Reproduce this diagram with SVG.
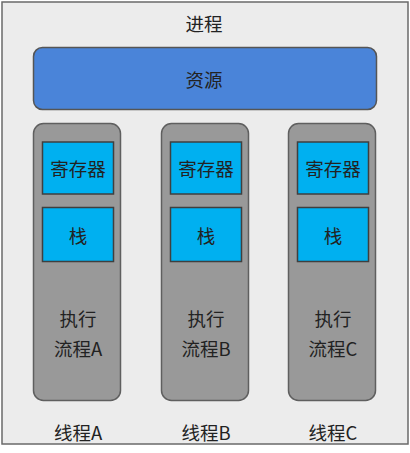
<svg xmlns="http://www.w3.org/2000/svg" width="410" height="453" viewBox="0 0 410 453">
<style>
text{font-family:"Noto Sans CJK SC","Liberation Sans",sans-serif;font-size:18.5px;fill:#222;text-anchor:middle;dominant-baseline:central}
.thread{fill:#999999;stroke:#5f5f5f;stroke-width:1.5}
.box{fill:#00b0f0;stroke:#3f3f3f;stroke-width:1.5}
</style>
<rect width="410" height="453" fill="#ffffff"/>
<g id="process">
<rect x="2" y="2" width="406" height="442" fill="#ececec" stroke="#6a6a6a" stroke-width="1.5"/>
<text x="204" y="23">进程</text>
</g>
<g id="resource">
<rect x="33.5" y="47.5" width="343" height="62" rx="9" fill="#4a84d9" stroke="#555555" stroke-width="1.5"/>
<text x="204" y="79">资源</text>
</g>
<g id="threadA">
<rect class="thread" x="33.5" y="123.5" width="87" height="277" rx="10"/>
<rect class="box" x="42.5" y="142" width="71" height="52"/>
<text x="78" y="168">寄存器</text>
<rect class="box" x="42.5" y="207.5" width="71" height="54"/>
<text x="78" y="235">栈</text>
<text x="78" y="318">执行</text>
<text x="78" y="348">流程A</text>
<text x="78" y="432">线程A</text>
</g>
<g id="threadB">
<rect class="thread" x="161.5" y="123.5" width="87" height="277" rx="10"/>
<rect class="box" x="170.5" y="142" width="71" height="52"/>
<text x="206" y="168">寄存器</text>
<rect class="box" x="170.5" y="207.5" width="71" height="54"/>
<text x="206" y="235">栈</text>
<text x="206" y="318">执行</text>
<text x="206" y="348">流程B</text>
<text x="206" y="432">线程B</text>
</g>
<g id="threadC">
<rect class="thread" x="288.5" y="123.5" width="87" height="277" rx="10"/>
<rect class="box" x="297.5" y="142" width="71" height="52"/>
<text x="333" y="168">寄存器</text>
<rect class="box" x="297.5" y="207.5" width="71" height="54"/>
<text x="333" y="235">栈</text>
<text x="333" y="318">执行</text>
<text x="333" y="348">流程C</text>
<text x="333" y="432">线程C</text>
</g>
<g id="connectors"></g>
</svg>
